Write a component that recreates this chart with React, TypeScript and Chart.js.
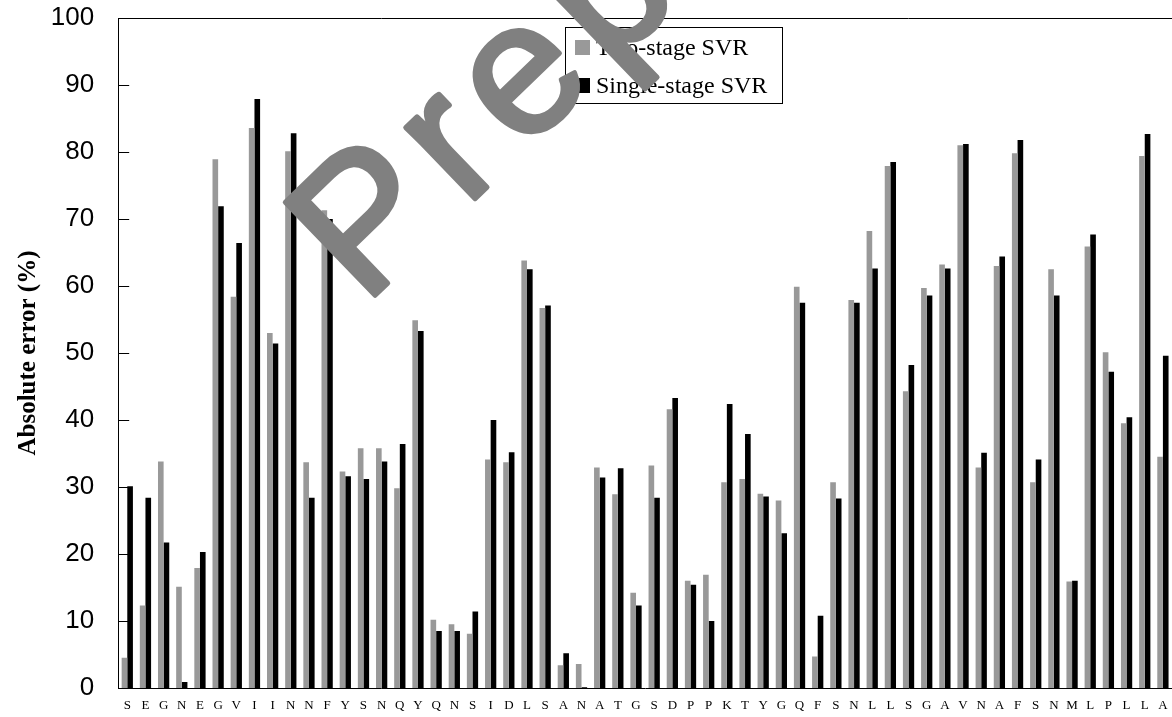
import React, { useEffect, useRef } from "react";
import { Chart, registerables } from "chart.js";

Chart.register(...registerables);

const categories = ["S","E","G","N","E","G","V","I","I","N","N","F","Y","S","N","Q","Y","Q","N","S","I","D","L","S","A","N","A","T","G","S","D","P","P","K","T","Y","G","Q","F","S","N","L","L","S","G","A","V","N","A","F","S","N","M","L","P","L","L","A"];

const twoStage = [4.5,12.3,33.8,15.1,17.9,78.9,58.4,83.6,53.0,80.1,
  33.7,71.3,32.3,35.8,35.8,29.8,54.9,10.2,9.5,8.1,
  34.1,33.7,63.8,56.7,3.4,3.6,32.9,28.9,14.2,33.2,
  41.6,16.0,16.9,30.7,31.2,29.0,28.0,59.9,4.7,30.7,
  57.9,68.2,77.9,44.3,59.7,63.2,81.0,32.9,63.0,79.8,
  30.7,62.5,15.9,65.9,50.1,39.5,79.4,34.5];

const singleStage = [30.1,28.4,21.7,0.9,20.3,71.9,66.4,87.9,51.4,82.8,
  28.4,70.0,31.6,31.2,33.8,36.4,53.3,8.5,8.5,11.4,
  40.0,35.2,62.5,57.1,5.2,0.1,31.4,32.8,12.3,28.4,
  43.3,15.4,10.0,42.4,37.9,28.6,23.1,57.5,10.8,28.3,
  57.5,62.6,78.5,48.2,58.6,62.6,81.2,35.1,64.4,81.8,
  34.1,58.6,16.0,67.7,47.2,40.4,82.7,49.6];

const seriesNames = ["Two-stage SVR", "Single-stage SVR"];
const seriesColors = ["#999999", "#000000"];
const yTitle = "Absolute error (%)";
const watermarkText = "Preprint";

const SERIF = "'Liberation Serif', 'Times New Roman', serif";
const SANS = "'Liberation Sans', Arial, sans-serif";

const framePlugin = {
  id: "frame",
  afterDatasetsDraw(chart: any) {
    const { ctx, chartArea } = chart;
    const y = chart.scales.y;
    ctx.save();
    ctx.strokeStyle = "#000";
    ctx.lineWidth = 1;
    ctx.beginPath();
    ctx.moveTo(chartArea.left, Math.round(chartArea.top) + 0.5);
    ctx.lineTo(chartArea.right, Math.round(chartArea.top) + 0.5);
    y.ticks.forEach((t: any) => {
      const py = Math.round(y.getPixelForValue(t.value)) + 0.5;
      ctx.moveTo(chartArea.left, py);
      ctx.lineTo(chartArea.left + 11, py);
    });
    ctx.stroke();

    // legend box
    const bx = 565.5, by = 27.5, bw = 217, bh = 76;
    ctx.fillStyle = "#fff";
    ctx.fillRect(bx, by, bw, bh);
    ctx.strokeRect(bx, by, bw, bh);
    const rows = [47.5, 85.5];
    ctx.font = `24px ${SERIF}`;
    ctx.textBaseline = "middle";
    ctx.textAlign = "left";
    chart.data.datasets.forEach((ds: any, i: number) => {
      ctx.fillStyle = ds.backgroundColor;
      ctx.fillRect(575, rows[i] - 7.5, 15, 15);
      ctx.fillStyle = "#000";
      ctx.fillText(ds.label, 596, rows[i] + 1);
    });
    ctx.restore();
  },
};

const watermarkPlugin = {
  id: "watermark",
  afterDraw(chart: any) {
    const { ctx } = chart;
    ctx.save();
    ctx.translate(364, 306);
    ctx.rotate((-44 * Math.PI) / 180);
    ctx.font = `188px ${SANS}`;
    (ctx as any).letterSpacing = "16px";
    ctx.textBaseline = "alphabetic";
    ctx.textAlign = "left";
    ctx.fillStyle = "rgb(128,128,128)";
    ctx.strokeStyle = "rgb(128,128,128)";
    ctx.lineWidth = 5;
    ctx.lineJoin = "round";
    ctx.fillText(watermarkText, 0, 0);
    ctx.strokeText(watermarkText, 0, 0);
    ctx.restore();
  },
};

export default function App() {
  const ref = useRef<HTMLCanvasElement>(null);
  useEffect(() => {
    if (!ref.current) return;
    const chart = new Chart(ref.current, {
      type: "bar",
      data: {
        labels: categories,
        datasets: [
          { label: seriesNames[0], data: twoStage, backgroundColor: seriesColors[0], borderWidth: 0 },
          { label: seriesNames[1], data: singleStage, backgroundColor: seriesColors[1], borderWidth: 0 },
        ],
      },
      options: {
        animation: false,
        responsive: false,
        devicePixelRatio: 1,
        layout: { padding: { top: 18, right: 0, left: 0, bottom: 0 } },
        datasets: { bar: { categoryPercentage: 0.62, barPercentage: 1.0 } },
        plugins: { legend: { display: false }, tooltip: { enabled: false } },
        scales: {
          x: {
            grid: { display: false, drawTicks: false },
            border: { display: true, color: "#000", width: 1 },
            ticks: {
              autoSkip: false,
              maxRotation: 0,
              minRotation: 0,
              padding: 10,
              color: "#000",
              font: { family: SERIF, size: 13 },
            },
            afterFit(scale: any) {
              scale.height = 29;
              scale.paddingLeft = 0;
              scale.paddingRight = 0;
            },
          },
          y: {
            min: 0,
            max: 100,
            grid: { display: false, drawTicks: false },
            border: { display: true, color: "#000", width: 1 },
            ticks: {
              stepSize: 10,
              padding: 24,
              color: "#000",
              font: { family: SANS, size: 26 },
            },
            title: {
              display: true,
              text: yTitle,
              color: "#000",
              font: { family: SERIF, size: 25, weight: "bold" },
              padding: { top: 14, bottom: 0 },
            },
            afterFit(scale: any) {
              scale.width = 118.2;
              scale.paddingTop = 0;
              scale.paddingBottom = 0;
            },
          },
        },
      },
      plugins: [framePlugin, watermarkPlugin],
    } as any);
    return () => chart.destroy();
  }, []);
  return (
    <div style={{ position: "absolute", left: 0, top: 0, width: 1172, height: 717, background: "#fff", overflow: "hidden" }}>
      <canvas ref={ref} width={1172} height={717} style={{ display: "block", width: 1172, height: 717 }} />
    </div>
  );
}
